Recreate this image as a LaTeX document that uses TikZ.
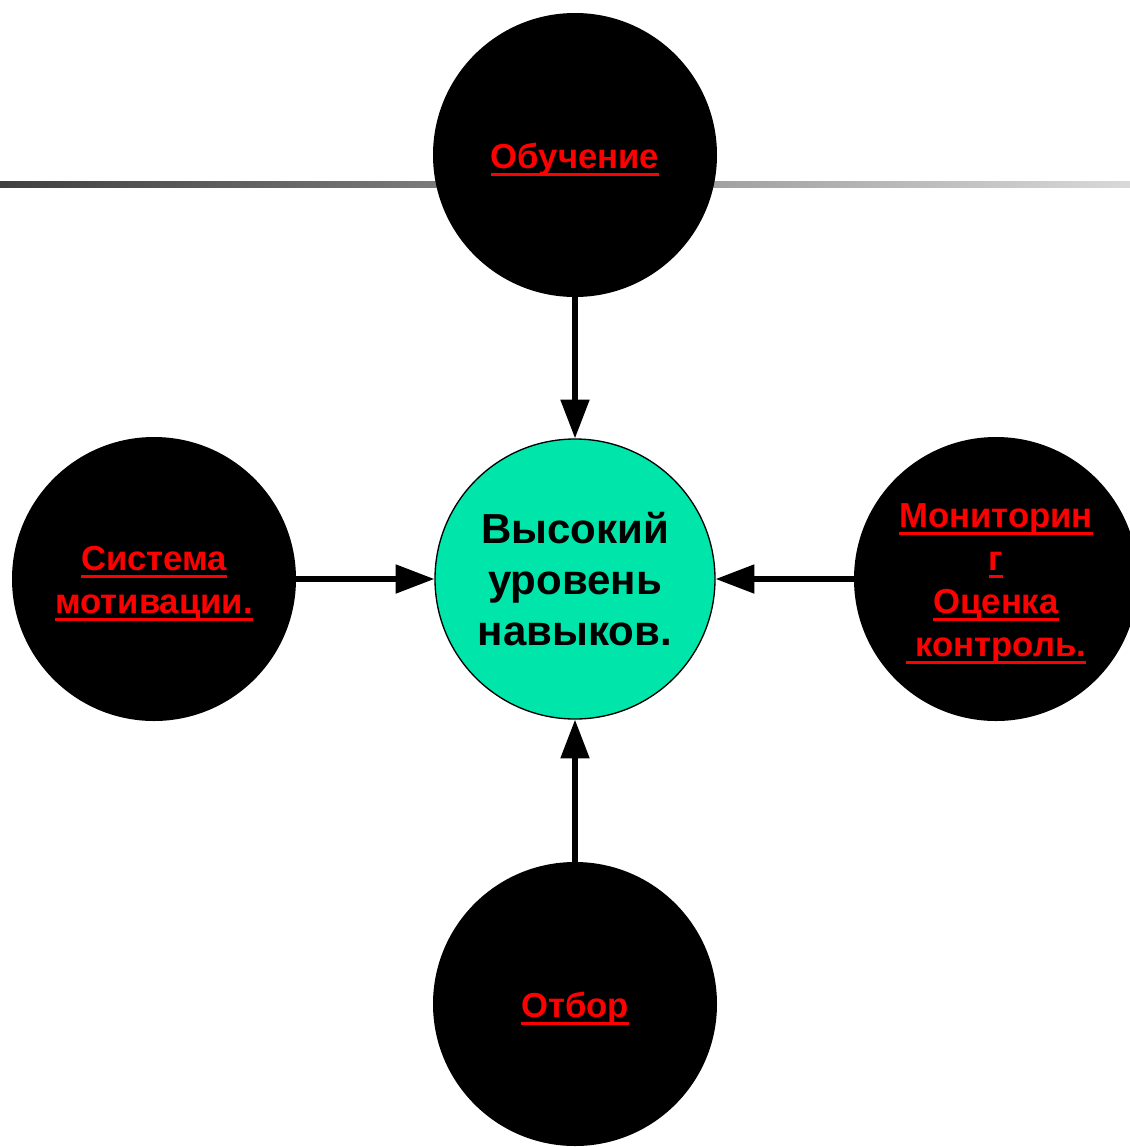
\documentclass[tikz,border=0pt]{standalone}
\usepackage{fontspec}
\setmainfont{Liberation Sans}
\usetikzlibrary{arrows.meta}
\newcommand{\redul}[1]{\setbox0=\hbox{#1}\rlap{\rule[-5.5pt]{\wd0}{2.2pt}}\box0}
\definecolor{mint}{HTML}{00E5A9}
\tikzset{
  blackball/.style={circle, fill=black, draw=none, minimum size=213pt, inner sep=0pt},
  lbl/.style={text=red, font=\bfseries\fontsize{26}{32.2}\selectfont, align=center, yshift=-3.5pt},
  hub/.style={circle, fill=mint, draw=black, line width=1pt, minimum size=210pt, inner sep=0pt,
    text=black, font=\bfseries\fontsize{31.5}{38}\selectfont, align=center},
  link/.style={line width=3.8pt, -{Triangle[length=29pt,width=21pt]}}
}
\begin{document}
\begin{tikzpicture}[x=0.75pt,y=-0.75pt]
\clip (0,0) rectangle (1130,1147);
\shade[left color=black!75, right color=black!15] (0,181) rectangle (1130,187);
\node[blackball, label={[lbl, name=topt]center:\redul{Обучение}}] (top) at (575,155) {};
\node[blackball, label={[lbl, name=leftt]center:\redul{Система}\\\redul{мотивации.}}] (left) at (154,579) {};
\node[blackball, label={[lbl, name=rightt]center:\redul{Мониторин}\\\redul{г}\\\redul{Оценка}\\\redul{\ контроль.}}] (right) at (996,579) {};
\node[blackball, label={[lbl, name=bottomt]center:\redul{Отбор}}] (bottom) at (575,1004) {};
\node[hub] (hub) at (575,579) {Высокий\\уровень\\навыков.};
\draw[link] (top) -- (hub);
\draw[link] (left) -- (hub);
\draw[link] (right) -- (hub);
\draw[link] (bottom) -- (hub);
\end{tikzpicture}
\end{document}
